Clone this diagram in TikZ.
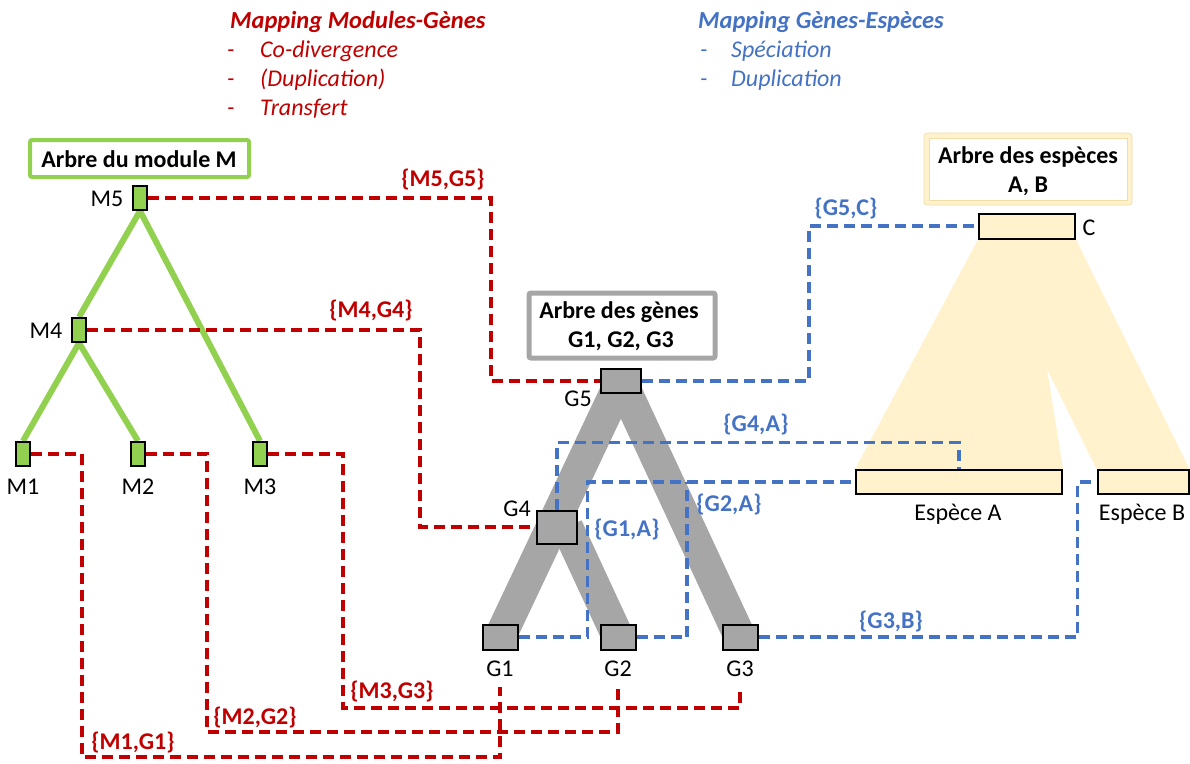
\documentclass[tikz,border=0pt]{standalone}
\usepackage{fontspec}
\setmainfont{Carlito}
\definecolor{mred}{HTML}{C00000}
\definecolor{mblue}{HTML}{4472C4}
\definecolor{mgreen}{HTML}{92D050}
\definecolor{mgray}{HTML}{A6A6A6}
\definecolor{myel}{HTML}{FFF2CC}
\definecolor{myeld}{HTML}{F2DCA8}
\pgfdeclarelayer{background}
\pgfsetlayers{background,main}
\begin{document}
\begin{tikzpicture}[x=1pt,y=-1pt,
  every node/.style={font=\fontsize{24}{28}\selectfont, inner sep=0pt},
  mbox/.style={draw=black, line width=2pt, fill=mgreen, minimum width=14pt, minimum height=24pt},
  gbox/.style={draw=black, line width=2pt, fill=mgray},
  sbox/.style={draw=black, line width=2pt, fill=myel, minimum height=24pt},
  rlink/.style={draw=mred, line width=3.3pt, dash pattern=on 11pt off 6pt},
  blink/.style={draw=mblue, line width=3.3pt, dash pattern=on 11pt off 6pt},
  rlab/.style={anchor=base, text=mred, font=\fontsize{24}{28}\selectfont\bfseries},
  blab/.style={anchor=base, text=mblue, font=\fontsize{24}{28}\selectfont\bfseries},
  nlab/.style={anchor=base},
  ttl/.style={anchor=base, font=\fontsize{24}{28}\selectfont\bfseries},
  hdr/.style={anchor=base west, font=\fontsize{24}{28}\selectfont\itshape},
  gedge/.style={draw=mgreen, line width=6pt},
  gbranch/.style={draw=mgray, line width=32pt}
]
\useasboundingbox (0,0) rectangle (1190,763);

% headers
\node[hdr, text=mred, font=\fontsize{24.5}{28}\selectfont\bfseries\itshape] (h1) at (230,28) {Mapping Modules-Gènes};
\node[hdr, text=mred] (h1a) at (227,57) {-};
\node[hdr, text=mred] (h1b) at (260,57) {Co-divergence};
\node[hdr, text=mred] (h1c) at (227,86) {-};
\node[hdr, text=mred] (h1d) at (260,86) {(Duplication)};
\node[hdr, text=mred] (h1e) at (227,115) {-};
\node[hdr, text=mred] (h1f) at (260,115) {Transfert};
\node[hdr, text=mblue, font=\fontsize{24.5}{28}\selectfont\bfseries\itshape] (h2) at (698,28) {Mapping Gènes-Espèces};
\node[hdr, text=mblue] (h2a) at (700,57) {-};
\node[hdr, text=mblue] (h2b) at (731,57) {Spéciation};
\node[hdr, text=mblue] (h2c) at (700,86) {-};
\node[hdr, text=mblue] (h2d) at (731,86) {Duplication};

% title boxes
\node[draw=mgreen, line width=4pt, rounded corners=2pt, minimum width=219pt, minimum height=37pt] (tM) at (139.5,158.5) {};
\node[ttl] (tMt) at (139,167) {Arbre du module M};
\node[draw=mgray, line width=5pt, rounded corners=2pt, minimum width=186pt, minimum height=65pt] (tG) at (622,325.5) {};
\node[ttl] (tGa) at (619,318) {Arbre des gènes};
\node[ttl] (tGb) at (621,347) {G1, G2, G3};
\node[draw=myeld, line width=0.6pt, fill=myel, rounded corners=3pt, minimum width=208pt, minimum height=72pt] (tS) at (1028,169) {};
\node[draw=myeld, line width=0.6pt, fill=white, minimum width=198pt, minimum height=62pt] (tSi) at (1028,169) {};
\node[ttl] (tSa) at (1028,163) {Arbre des espèces};
\node[ttl] (tSb) at (1028,192) {A, B};

% module tree nodes
\node[mbox] (M5) at (140,198) {};
\node[mbox] (M4) at (79,330) {};
\node[mbox] (M1) at (23,454) {};
\node[mbox] (M2) at (138,454) {};
\node[mbox] (M3) at (260,454) {};
\node[nlab] (lM5) at (107,206) {M5};
\node[nlab] (lM4) at (46,338) {M4};
\node[nlab] (lM1) at (23,494) {M1};
\node[nlab] (lM2) at (138,494) {M2};
\node[nlab] (lM3) at (260,494) {M3};

% gene tree nodes
\node[gbox, minimum width=40pt, minimum height=24pt] (G5) at (621,381) {};
\node[gbox, minimum width=40pt, minimum height=33pt] (G4) at (557,527) {};
\node[gbox, minimum width=35pt, minimum height=25pt] (G1) at (500,637) {};
\node[gbox, minimum width=35pt, minimum height=25pt] (G2) at (618,637) {};
\node[gbox, minimum width=35pt, minimum height=25pt] (G3) at (740,637) {};
\node[nlab] (lG5) at (578,406) {G5};
\node[nlab] (lG4) at (517,516) {G4};
\node[nlab] (lG1) at (500,676) {G1};
\node[nlab] (lG2) at (618,676) {G2};
\node[nlab] (lG3) at (740,676) {G3};

% species nodes
\node[sbox, minimum width=96pt, minimum height=25pt] (C) at (1027,226) {};
\node[sbox, minimum width=206pt] (A) at (959,482) {};
\node[sbox, minimum width=91pt] (B) at (1143,482) {};
\node[nlab] (lC) at (1089,235) {C};
\node[nlab] (lA) at (958,520) {Espèce A};
\node[nlab] (lB) at (1142,520) {Espèce B};

\begin{pgfonlayer}{background}
  \fill[myel] (C.south west) -- (A.north west) -- (A.north east) -- (1047,369)
     -- (B.north west) -- (B.north east) -- (C.south east) -- cycle;
  \draw[gbranch] (G5.center) -- (G1.center);
  \draw[gbranch] (G5.center) -- (G3.center);
  \draw[gbranch] ([xshift=10pt]G4.center) -- (G2.center);
  \draw[gedge] (M5.south) -- (M4.north);
  \draw[gedge] (M5.south) -- (M3.north);
  \draw[gedge] (M4.south) -- (M1.north);
  \draw[gedge] (M4.south) -- (M2.north);
\end{pgfonlayer}

% end points of module-gene links
\coordinate (e1) at (500,687);
\coordinate (e2) at (618,687);
\coordinate (e3) at (740,687);
\coordinate (j2) at (687,482);

% red links
\draw[rlink] (M5.east) -- ++(343,0) |- (G5.west);
\draw[rlink] (M4.east) -- ++(333,0) |- (G4.west);
\draw[rlink] (M1.east) -| (82,757) -| (e1);
\draw[rlink] (M2.east) -| (207,732) -| (e2);
\draw[rlink] (M3.east) -| (343,708) -| (e3);
\node[rlab] (r5) at (443,186) {\{M5,G5\}};
\node[rlab] (r4) at (371,317) {\{M4,G4\}};
\node[rlab] (r1) at (133,749) {\{M1,G1\}};
\node[rlab] (r2) at (255,724) {\{M2,G2\}};
\node[rlab] (r3) at (392,698) {\{M3,G3\}};

% blue links
\draw[blink] (G5.east) -- ++(167,0) |- (C.west);
\draw[blink] (G4.north) -- ++(0,-67) -| (A.north);
\draw[blink] (G1.east) -- ++(69,0) |- (A.west);
\draw[blink] (G2.east) -| (j2);
\draw[blink] (G3.east) -- ++(319,0) |- (B.west);
\node[blab] (b5) at (846,215) {\{G5,C\}};
\node[blab] (b4) at (756,431) {\{G4,A\}};
\node[blab] (b1) at (627,536) {\{G1,A\}};
\node[blab] (b2) at (729,511) {\{G2,A\}};
\node[blab] (b3) at (891,628) {\{G3,B\}};
\end{tikzpicture}
\end{document}
